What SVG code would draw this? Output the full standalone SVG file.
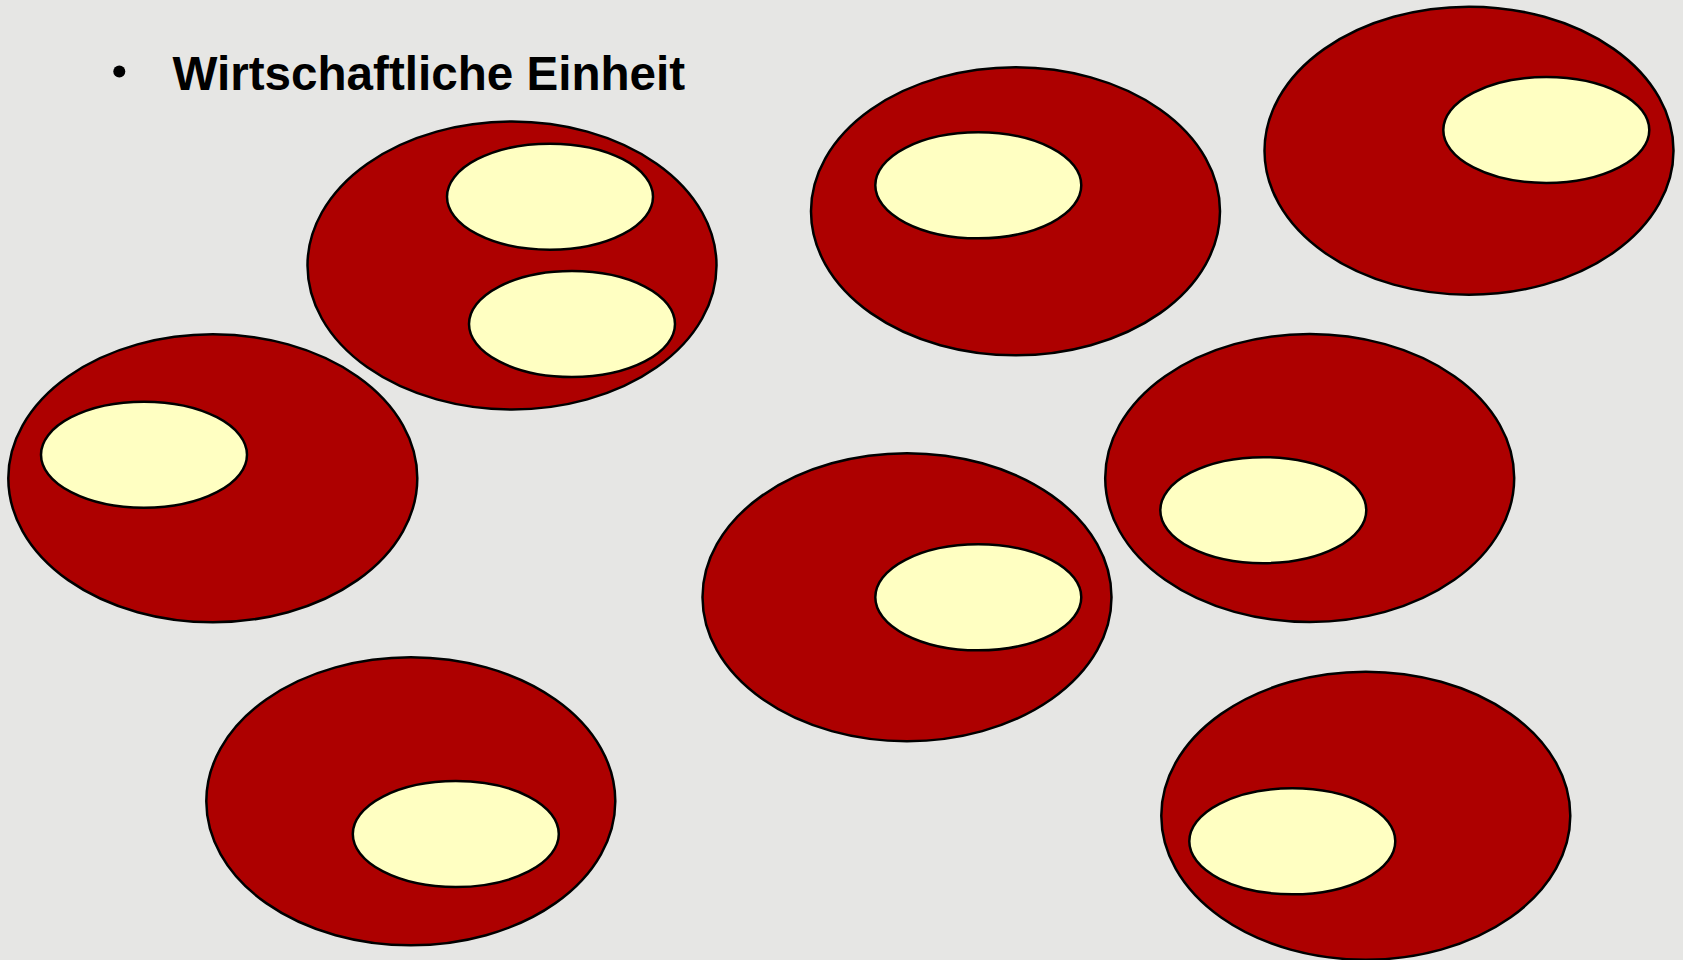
<svg xmlns="http://www.w3.org/2000/svg" width="1683" height="960" viewBox="0 0 1683 960">
<style>
.outer{fill:#ad0000;stroke:#000;stroke-width:2.5}
.inner{fill:#ffffc2;stroke:#000;stroke-width:2.5}
.title{font-family:"Liberation Sans",Arial,sans-serif;font-weight:bold;font-size:47.6px;fill:#000}
</style>
<rect width="1683" height="960" fill="#e6e6e4"/>
<g id="title">
<circle cx="119.3" cy="71.6" r="6" fill="#000"/>
<text class="title" x="172.5" y="89.5">Wirtschaftliche Einheit</text>
</g>
<g id="unit1"><ellipse class="outer" cx="512" cy="265.5" rx="204.5" ry="144"/><ellipse class="inner" cx="550" cy="196.7" rx="103" ry="53"/><ellipse class="inner" cx="572" cy="324" rx="103" ry="53"/></g>
<g id="unit2"><ellipse class="outer" cx="1015.5" cy="211.3" rx="204.5" ry="144"/><ellipse class="inner" cx="978.3" cy="185.3" rx="103" ry="53"/></g>
<g id="unit3"><ellipse class="outer" cx="1469" cy="150.7" rx="204.5" ry="144"/><ellipse class="inner" cx="1546.3" cy="130" rx="103" ry="53"/></g>
<g id="unit4"><ellipse class="outer" cx="212.8" cy="478.3" rx="204.5" ry="144"/><ellipse class="inner" cx="144" cy="454.7" rx="103" ry="53"/></g>
<g id="unit5"><ellipse class="outer" cx="907" cy="597.2" rx="204.5" ry="144"/><ellipse class="inner" cx="978.3" cy="597.3" rx="103" ry="53"/></g>
<g id="unit6"><ellipse class="outer" cx="1309.7" cy="478" rx="204.5" ry="144"/><ellipse class="inner" cx="1263.3" cy="510.2" rx="103" ry="53"/></g>
<g id="unit7"><ellipse class="outer" cx="410.8" cy="801.3" rx="204.5" ry="144"/><ellipse class="inner" cx="455.8" cy="834" rx="103" ry="53"/></g>
<g id="unit8"><ellipse class="outer" cx="1365.8" cy="815.7" rx="204.5" ry="144"/><ellipse class="inner" cx="1292.3" cy="841.3" rx="103" ry="53"/></g>
<g id="connectors"/>
</svg>
